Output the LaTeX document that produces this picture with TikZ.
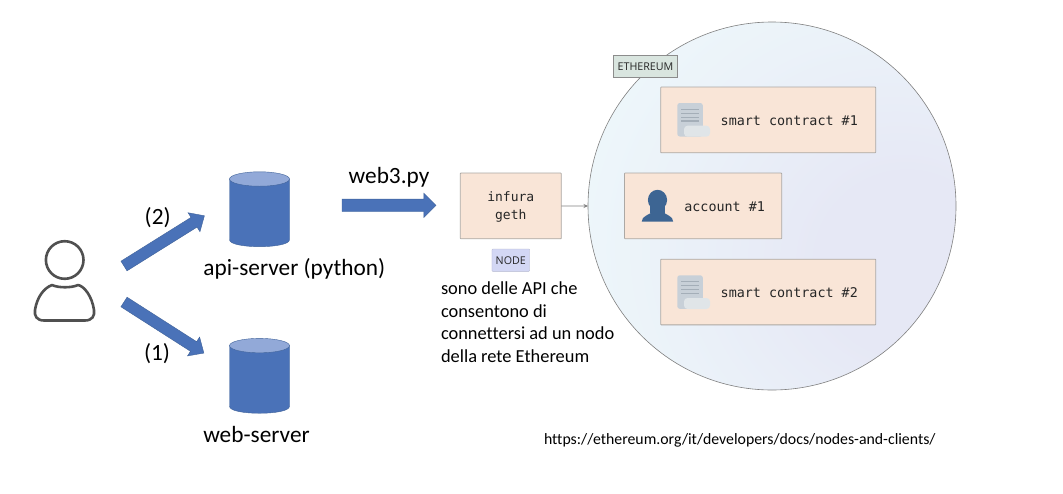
\documentclass[tikz,border=0pt]{standalone}
\usepackage{fontspec}
\usetikzlibrary{shapes.arrows,arrows.meta}
\setmainfont[Ligatures=NoCommon]{Carlito}
\newfontfamily\monof{DejaVu Sans Mono}
\newfontfamily\labf{Open Sans}
\definecolor{bluefill}{HTML}{4A72B8}
\definecolor{bluetop}{HTML}{92A9D8}
\definecolor{blueedge}{HTML}{3F6299}
\definecolor{peach}{HTML}{F9E5D7}
\definecolor{peachedge}{HTML}{ACA8A4}
\definecolor{iconblue}{HTML}{3D6593}
\definecolor{docgrey}{HTML}{C8D0D8}
\definecolor{docline}{HTML}{A4AEB8}
\definecolor{docfold}{HTML}{E0E5E8}
\definecolor{usergrey}{HTML}{505050}
\definecolor{ethmid}{HTML}{E6E8F5}
\definecolor{ethtwo}{HTML}{EBF2F9}
\definecolor{ethout}{HTML}{F0FBFB}
\definecolor{tageth}{HTML}{D9E5DF}
\definecolor{tagnode}{HTML}{D3D7F4}
\pgfdeclareradialshading{ethshade}{\pgfpoint{21bp}{-9bp}}{%
  color(0bp)=(ethmid);color(12bp)=(ethmid);color(30bp)=(ethtwo);color(50bp)=(ethout);color(100bp)=(ethout)}
\tikzset{
  x=1pt,y=-1pt,
  every node/.style={inner sep=0pt,outer sep=0pt},
  bigtext/.style={font=\fontsize{23.3}{27}\selectfont,text=black,anchor=base},
  notetext/.style={font=\fontsize{18.4}{22.6}\selectfont,text=black,align=left,anchor=north west},
  urltext/.style={font=\fontsize{15.8}{18}\selectfont,text=black,anchor=base west},
  monotext/.style={font=\monof\fontsize{13.4}{18.3}\selectfont,text=black!85,anchor=base west},
  peachbox/.style={draw=peachedge,fill=peach,line width=0.8pt,rounded corners=0.6pt,minimum height=65.7pt},
  tagtext/.style={font=\labf\fontsize{10.7}{12}\selectfont,text=black!85},
  fatarrow/.style={single arrow,fill=bluefill,draw=blueedge,line width=0.4pt,anchor=tail,
    single arrow head indent=0pt,inner xsep=0pt},
  ethcircle/.style={circle,minimum size=368pt,shading=ethshade,draw=black!50,line width=0.6pt},
}
\newcommand{\dbcyl}[2]{%
  \path[fill=bluefill,draw=blueedge,line width=0.4pt] (#1-30,#2) -- (#1-30,#2+60.7)
    .. controls (#1-30,#2+70) and (#1+30,#2+70) .. (#1+30,#2+60.7) -- (#1+30,#2) -- cycle;
  \path[fill=bluetop,draw=blueedge,line width=0.4pt] (#1,#2) ellipse[x radius=30,y radius=7.2];
}
\newcommand{\docicon}[2]{%
  \fill[docgrey,rounded corners=2.5pt] (#1,#2) rectangle (#1+25.5,#2+33.5);
  \foreach \yy in {6.3,10.3,14.3,18}{\draw[docline,line width=1.2pt] (#1+3.7,#2+\yy) -- (#1+22,#2+\yy);}
  \fill[docfold,rounded corners=3.5pt] (#1+6.7,#2+22.7) rectangle (#1+32.7,#2+33.7);
}
\begin{document}
\begin{tikzpicture}
\useasboundingbox (0,0) rectangle (1063,493);
\fill[white] (0,0) rectangle (1063,493);
% Ethereum circle
\node[ethcircle] (eth) at (772,206) {};
% tag
\node[draw=black!45,fill=tageth,line width=0.6pt,minimum width=64.4pt,minimum height=22.4pt,tagtext] (ethtag) at (645.5,66.5) {ETHEREUM};
% boxes
\node[peachbox,minimum width=215pt] (sc1) at (768.2,119.9) {};
\node[peachbox,minimum width=157.2pt] (acc) at (703.1,205.9) {};
\node[peachbox,minimum width=215pt] (sc2) at (768.2,292) {};
\node[peachbox,minimum width=101pt] (inf) at (510.8,205.9) {};
\node[align=center,font=\monof\fontsize{13}{18.3}\selectfont,text=black!85] (inft) at (510.8,207.3) {infura\\geth};
\node[fill=tagnode,draw=tagnode!85!black,line width=0.3pt,rounded corners=0.8pt,minimum width=37.7pt,minimum height=22.3pt,tagtext] (nodetag) at (510.8,260.2) {NODE};
\draw[-{Stealth[length=4.5pt,width=4pt]},black!50,line width=0.8pt] (inf.east) -- (eth.west);
% icons
\docicon{677.3}{103}
\docicon{677.3}{275.3}
\fill[iconblue] (657.5,200) circle[x radius=9.6,y radius=10.2];
\fill[iconblue] (650,205) rectangle (665,213);
\fill[iconblue] (641.7,221.7) .. controls (641.5,216) and (650,214.5) .. (652,212) -- (663,212) .. controls (665,214.5) and (673.5,216) .. (673.2,221.7) -- cycle;
% mono labels
\node[monotext] (sc1t) at (720.7,125) {smart contract \#1};
\node[monotext] (acct) at (684.3,211) {account \#1};
\node[monotext] (sc2t) at (720.7,297.4) {smart contract \#2};
% user
\draw[usergrey,line width=2.6pt] (64.7,260) circle[radius=18.8];
\draw[usergrey,line width=2.6pt,line join=round] (44,320.5) -- (85,320.5)
  .. controls (92,320.5) and (95,316) .. (94,310)
  .. controls (92,296) and (84,286) .. (78,285)
  .. controls (72,288) and (58,288) .. (52,285)
  .. controls (44,288) and (37,297) .. (35,310)
  .. controls (34,316) and (37,320.5) .. (44,320.5) -- cycle;
% cylinders
\dbcyl{259.5}{179}
\dbcyl{259.5}{345.6}
% fat arrows
\node[fatarrow,inner ysep=5.5pt,minimum width=22pt,single arrow head extend=5.5pt,minimum height=94.8pt,single arrow tip angle=85,rotate=32] (ar2) at (124,266) {};
\node[fatarrow,inner ysep=5.5pt,minimum width=22pt,single arrow head extend=5.5pt,minimum height=94.8pt,single arrow tip angle=85,rotate=-32.6] (ar1) at (124,302) {};
\node[fatarrow,inner ysep=6pt,minimum width=24pt,single arrow head extend=6pt,minimum height=94pt,single arrow tip angle=90] (ar3) at (342,205.3) {};
% texts
\node[bigtext] (l2) at (157.7,224) {(2)};
\node[bigtext] (l1) at (157,360) {(1)};
\node[bigtext] (apit) at (294.3,275) {api-server (python)};
\node[bigtext] (webt) at (256.5,442) {web-server};
\node[bigtext] (w3t) at (389,183) {web3.py};
\node[notetext] (note) at (441,282) {sono delle API che\\consentono di\\connettersi ad un nodo\\della rete Ethereum};
\node[urltext] (url) at (544,444) {https://ethereum.org/it/developers/docs/nodes-and-clients/};
\end{tikzpicture}
\end{document}
